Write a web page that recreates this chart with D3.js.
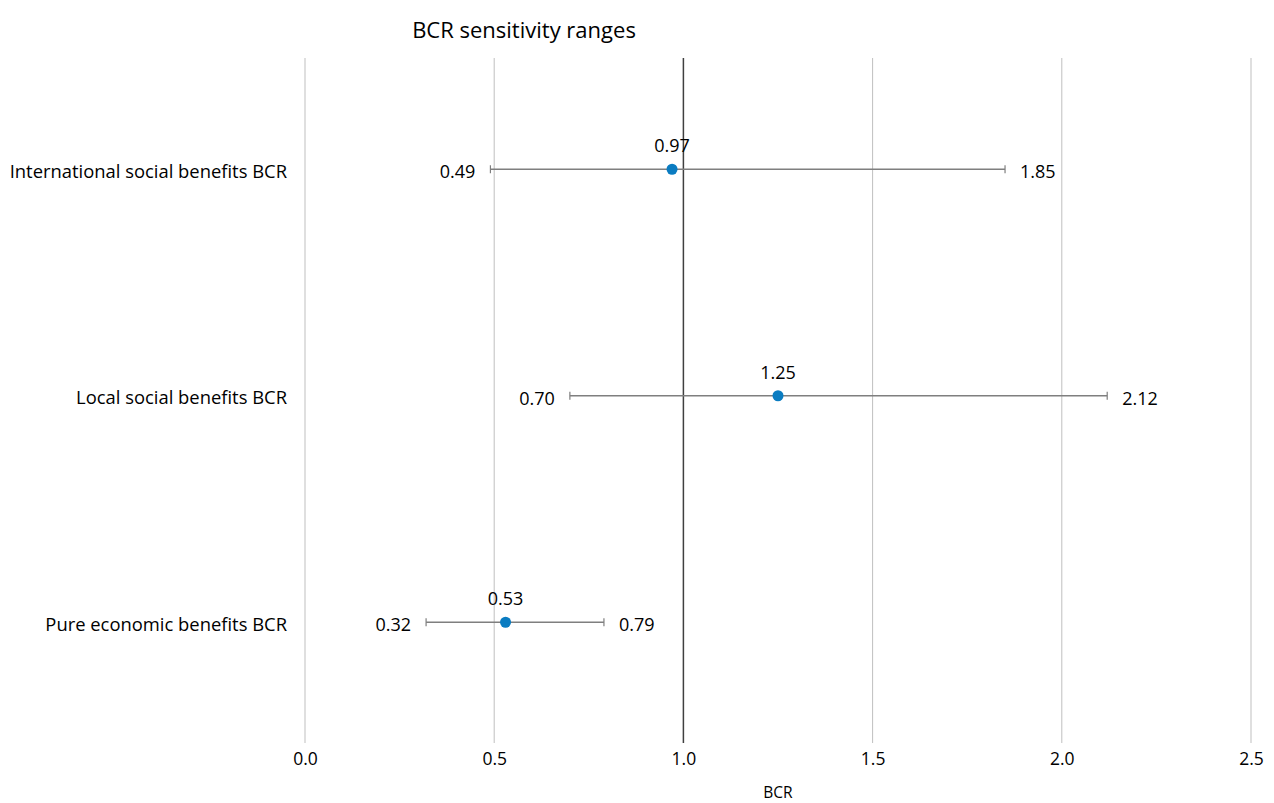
<!DOCTYPE html>
<html>
<head>
<meta charset="utf-8">
<script src="https://cdn.jsdelivr.net/npm/d3@7"></script>
<style>
  body { margin: 0; background: #fff; }
  text { font-family: "Open Sans", "Noto Sans", sans-serif; fill: #000; }
</style>
</head>
<body>
<div id="chart"></div>
<script>
const width = 1274;
const height = 803;
const margin = {top: 60, left: 305, bottom: 60, right: 23};

const categories = ['International social benefits BCR', 'Local social benefits BCR', 'Pure economic benefits BCR'];
const lowValues = [0.49, 0.70, 0.32];
const midValues = [0.97, 1.25, 0.53];
const highValues = [1.85, 2.12, 0.79];
const xTicks = [0, 0.5, 1.0, 1.5, 2.0, 2.5];

const rows = categories.map((c, i) => ({name: c, low: lowValues[i], mid: midValues[i], high: highValues[i]}));

const x = d3.scaleLinear().domain([0, 2.5]).range([margin.left, width - margin.right]);
const y = d3.scaleBand().domain(categories).range([56, 735.5]);

const svg = d3.select('#chart').append('svg').attr('width', width).attr('height', height);

// 세로 격자선
svg.append('g')
  .selectAll('line').data(xTicks).enter().append('line')
  .attr('x1', d => x(d)).attr('x2', d => x(d))
  .attr('y1', 58).attr('y2', 743)
  .attr('stroke', d => d === 1 ? '#404040' : '#bfbfbf')
  .attr('stroke-width', d => d === 1 ? 1.5 : 1);

// x축 눈금 라벨
svg.append('g')
  .attr('transform', 'translate(0, 743)')
  .call(d3.axisBottom(x).tickValues(xTicks).tickFormat(d3.format('.1f')).tickSize(0).tickPadding(10))
  .call(g => g.select('.domain').remove())
  .call(g => g.selectAll('text').style('font-size', '17.5px').attr('fill', '#000'));

// y축 카테고리 라벨
svg.append('g')
  .selectAll('text').data(rows).enter().append('text')
  .attr('x', 287).attr('y', d => y(d.name) + y.bandwidth() / 2 + 1)
  .attr('text-anchor', 'end').attr('dominant-baseline', 'central')
  .style('font-size', '18.4px').text(d => d.name);

const cy = d => y(d.name) + y.bandwidth() / 2;

const bars = svg.append('g');
bars.selectAll('line.range').data(rows).enter().append('line')
  .attr('x1', d => x(d.low)).attr('x2', d => x(d.high))
  .attr('y1', cy).attr('y2', cy)
  .attr('stroke', '#7f7f7f').attr('stroke-width', 1.5);
bars.selectAll('line.capL').data(rows).enter().append('line')
  .attr('x1', d => x(d.low)).attr('x2', d => x(d.low))
  .attr('y1', d => cy(d) - 4).attr('y2', d => cy(d) + 4)
  .attr('stroke', '#7f7f7f').attr('stroke-width', 1.2);
bars.selectAll('line.capR').data(rows).enter().append('line')
  .attr('x1', d => x(d.high)).attr('x2', d => x(d.high))
  .attr('y1', d => cy(d) - 4).attr('y2', d => cy(d) + 4)
  .attr('stroke', '#7f7f7f').attr('stroke-width', 1.2);
bars.selectAll('circle').data(rows).enter().append('circle')
  .attr('cx', d => x(d.mid)).attr('cy', cy).attr('r', 5.5)
  .attr('fill', '#0a7cc1');

// 값 라벨
const labels = svg.append('g').style('font-size', '18px');
labels.selectAll('text.low').data(rows).enter().append('text')
  .attr('x', d => x(d.low) - 15).attr('y', d => cy(d) + 2)
  .attr('text-anchor', 'end').attr('dominant-baseline', 'central')
  .text(d => d.low.toFixed(2));
labels.selectAll('text.high').data(rows).enter().append('text')
  .attr('x', d => x(d.high) + 15).attr('y', d => cy(d) + 2)
  .attr('text-anchor', 'start').attr('dominant-baseline', 'central')
  .text(d => d.high.toFixed(2));
labels.selectAll('text.mid').data(rows).enter().append('text')
  .attr('x', d => x(d.mid)).attr('y', d => cy(d) - 24)
  .attr('text-anchor', 'middle').attr('dominant-baseline', 'central')
  .text(d => d.mid.toFixed(2));

// 제목과 축 제목
svg.append('text').attr('x', 524).attr('y', 29)
  .attr('text-anchor', 'middle').attr('dominant-baseline', 'central')
  .style('font-size', '22px').text('BCR sensitivity ranges');
svg.append('text').attr('x', 778).attr('y', 792)
  .attr('text-anchor', 'middle').attr('dominant-baseline', 'central')
  .style('font-size', '15.5px').text('BCR');
</script>
</body>
</html>
